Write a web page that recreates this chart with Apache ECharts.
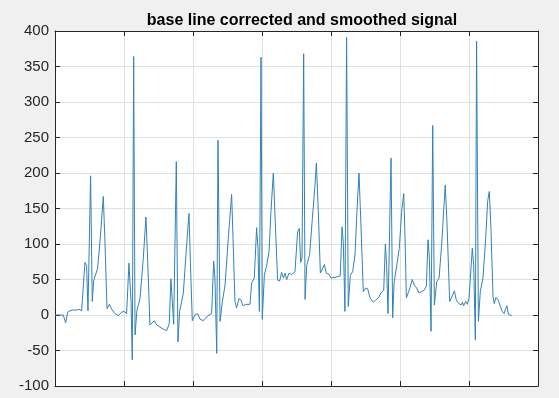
<!DOCTYPE html>
<html>
<head>
<meta charset="utf-8">
<script src="https://cdn.jsdelivr.net/npm/echarts@6/dist/echarts.min.js"></script>
<style>
html,body{margin:0;padding:0;background:#f0f0f0;}
#chart{width:559px;height:398px;}
</style>
</head>
<body>
<div id="chart"></div>
<script>
const titleText = 'base line corrected and smoothed signal';
const sampleIndex = [0,60,77,92,109,126,140,157,174,193,203,217,229,239,258,270,280,309,328,350,362,377,394,411,435,459,483,500,512,519,536,551,560,570,580,594,616,640,659,671,688,700,720,737,761,785,809,828,840,850,860,879,891,903,930,954,971,981,995,1014,1034,1051,1075,
1087,1116,1135,1150,1159,1172,1181,1196,1213,1232,1256,1280,1290,1304,1316,1333,1348,1362,1382,1413,1425,1444,1461,1471,1481,1493,1502,1517,1534,1551,1565,1582,1594,1613,1628,1642,1655,1667,1679,1696,1715,1739,1749,1758,1770,1780,1790,1802,1812,1824,1845,1865,1884,1894,1908,1923,1937,1952,1966,1985,2000,2029,2048,2060,2067,2080,2089,2101,2113,2125,2140,2157,2174,
2188,2203,2217,2234,2251,2266,2283,2295,2307,2324,2343,2362,2382,2394,2403,2413,2435,2447,2457,2471,2495,2512,2527,2536,2546,2560,2572,2589,2604,2621,2638,2657,2676,2691,2703,2713,2725,2737,2749,2766,2783,2802,2816,2828,2841,2860,2879,2894,2908,2927,2942,2952,2961,2976,2988,3000,3010,3024,3034,3046,3055,3068,3082,3101,3121,3135,3147,3159,3174,3183,3196,3212,3227,3241,3254,3266,3275,3285,3309];
const signalValues = [0,0,-11,4,6,7,8,7,8,6,5,74,70,6,196,19,48,66,108,167,103,9,15,8,2,-1,4,5,7,2,73,19,-63,364,-28,7,23,80,138,80,-14,-16,-8,-14,-17,-20,-22,-12,51,52,-13,216,-38,5,31,99,143,75,-8,0,2,-6,-8,
-5,0,2,76,52,-54,246,-9,19,42,108,170,108,19,10,23,21,13,15,15,45,52,123,94,5,363,-6,56,70,89,146,200,141,49,48,60,52,59,50,59,57,61,63,117,122,74,80,368,22,70,85,136,183,214,146,59,59,71,59,57,52,53,54,56,55,124,103,5,391,12,56,61,85,
146,200,127,33,38,37,24,23,18,21,24,31,35,100,70,2,221,-4,45,47,94,146,171,113,24,26,38,50,42,38,31,33,35,41,106,80,-23,267,14,47,52,99,146,183,127,19,27,34,21,16,14,18,13,19,15,24,23,94,70,-35,386,-9,33,52,108,160,174,122,26,16,25,21,12,5,2,9,13,1,-1];
const xMin = 0, xMax = 3500, xStep = 500;
const yMin = -100, yMax = 400, yStep = 50;

const points = sampleIndex.map((s, i) => [s, signalValues[i]]);
const axisColor = '#262626';
const gridColor = '#e0e0e0';
const plain = v => String(v);

const chart = echarts.init(document.getElementById('chart'), null, {renderer: 'canvas'});
chart.setOption({
  animation: false,
  backgroundColor: '#f0f0f0',
  title: {
    text: titleText,
    left: 297, top: 8, textAlign: 'center',
    textStyle: {fontFamily: 'Liberation Sans', fontWeight: 'bold', fontSize: 16, color: '#000'}
  },
  grid: {left: 55, right: 21, top: 31, bottom: 12, show: true, backgroundColor: '#ffffff', borderWidth: 0, containLabel: false, outerBoundsMode: 'none'},
  xAxis: [{
    type: 'value', min: xMin, max: xMax, interval: xStep, position: 'bottom',
    axisLine: {show: true, onZero: false, lineStyle: {color: axisColor, width: 1}},
    axisTick: {show: true, inside: true, length: 5, lineStyle: {color: axisColor}},
    axisLabel: {show: true, margin: 11, fontFamily: 'Liberation Sans', fontSize: 15, color: axisColor, formatter: plain},
    splitLine: {show: true, lineStyle: {color: gridColor, width: 1}}
  }, {
    type: 'value', min: xMin, max: xMax, interval: xStep, position: 'top',
    axisLine: {show: true, onZero: false, lineStyle: {color: axisColor, width: 1}},
    axisTick: {show: true, inside: true, length: 5, lineStyle: {color: axisColor}},
    axisLabel: {show: false}, splitLine: {show: false}
  }],
  yAxis: [{
    type: 'value', min: yMin, max: yMax, interval: yStep, position: 'left',
    axisLine: {show: true, onZero: false, lineStyle: {color: axisColor, width: 1}},
    axisTick: {show: true, inside: true, length: 5, lineStyle: {color: axisColor}},
    axisLabel: {show: true, margin: 6, fontFamily: 'Liberation Sans', fontSize: 15, color: axisColor, formatter: plain},
    splitLine: {show: true, lineStyle: {color: gridColor, width: 1}}
  }, {
    type: 'value', min: yMin, max: yMax, interval: yStep, position: 'right',
    axisLine: {show: true, onZero: false, lineStyle: {color: axisColor, width: 1}},
    axisTick: {show: true, inside: true, length: 5, lineStyle: {color: axisColor}},
    axisLabel: {show: false}, splitLine: {show: false}
  }],
  series: [{
    type: 'line', data: points, xAxisIndex: 0, yAxisIndex: 0,
    showSymbol: false, symbol: 'none',
    lineStyle: {color: '#3282b8', width: 1},
    emphasis: {disabled: true}
  }]
});
</script>
</body>
</html>
